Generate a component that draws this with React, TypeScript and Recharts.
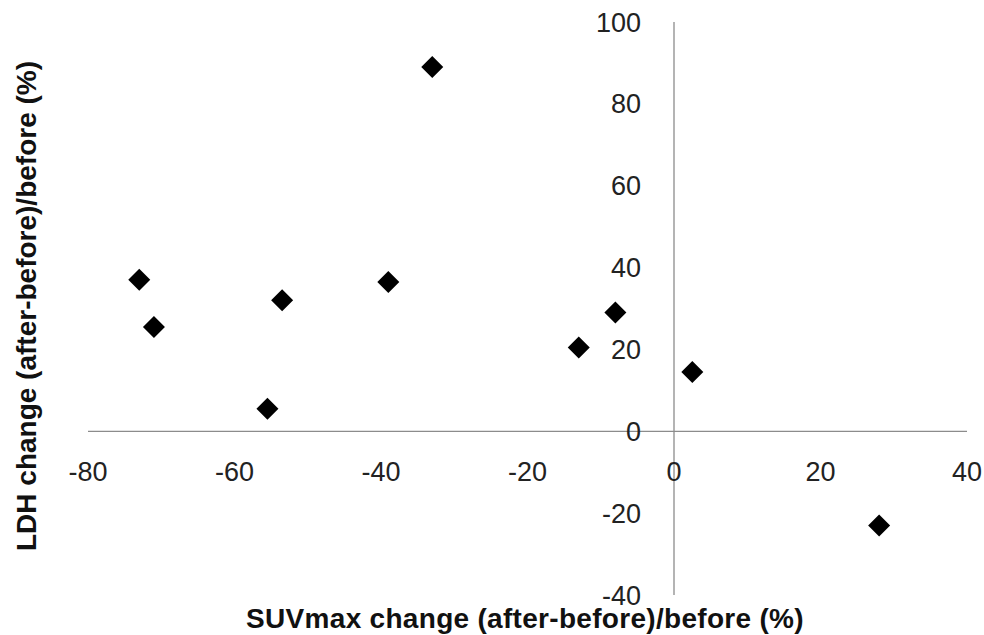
import { ScatterChart, Scatter, XAxis, YAxis, ReferenceLine, ReferenceDot } from 'recharts'

const suvChange = [-73, -71, -55.5, -53.5, -39, -33, -13, -8, 2.5, 28]
const ldhChange = [37, 25.5, 5.5, 32, 36.5, 89, 20.5, 29, 14.5, -23]
const xTicks = [-80, -60, -40, -20, 0, 20, 40]
const yTicks = [-40, -20, 0, 20, 40, 60, 80, 100]

const points = suvChange.map((x, i) => ({ x, y: ldhChange[i] }))

const axisColor = '#8c8c8c'
const fontFamily = 'Liberation Sans, Arial, sans-serif'
const tickFont = { fontFamily, fontSize: 27, fill: '#222' }

function Diamond(props: any) {
  const { cx, cy } = props
  const h = 11
  return <polygon points={`${cx},${cy - h} ${cx + h},${cy} ${cx},${cy + h} ${cx - h},${cy}`} fill="#000" />
}

export default function App() {
  return (
    <div style={{ position: 'relative', width: 984, height: 635, background: '#fff', overflow: 'hidden' }}>
      <style>{'html,body{margin:0;padding:0;overflow:hidden}'}</style>
      <ScatterChart width={984} height={635} margin={{ top: 22, right: 17, bottom: 40, left: 88 }}>
        <XAxis type="number" dataKey="x" domain={[-80, 40]} ticks={xTicks} hide />
        <YAxis type="number" dataKey="y" domain={[-40, 100]} ticks={yTicks} hide />
        <ReferenceLine y={0} stroke={axisColor} strokeWidth={1.3} />
        <ReferenceLine x={0} stroke={axisColor} strokeWidth={1.3} />
        {xTicks.map((t) => (
          <ReferenceDot key={`x${t}`} x={t} y={0} r={0} ifOverflow="visible" fill="none" stroke="none"
            label={{ value: String(t), position: 'bottom', offset: 31, ...tickFont }} />
        ))}
        {yTicks.map((t) => (
          <ReferenceDot key={`y${t}`} x={0} y={t} r={0} ifOverflow="visible" fill="none" stroke="none"
            label={{ value: String(t), position: 'left', offset: 33, ...tickFont }} />
        ))}
        <Scatter data={points} shape={Diamond} isAnimationActive={false} />
      </ScatterChart>
      <svg width={984} height={635} style={{ position: 'absolute', left: 0, top: 0, pointerEvents: 'none' }}>
        <text x={525} y={628} textAnchor="middle" fontFamily={fontFamily} fontWeight={700} fontSize={28}
          letterSpacing={0.3} fill="#111">
          SUVmax change (after-before)/before (%)
        </text>
        <text x={36} y={306} textAnchor="middle" transform="rotate(-90 36 306)" fontFamily={fontFamily}
          fontWeight={700} fontSize={28} fill="#111">
          LDH change (after-before)/before (%)
        </text>
      </svg>
    </div>
  )
}
